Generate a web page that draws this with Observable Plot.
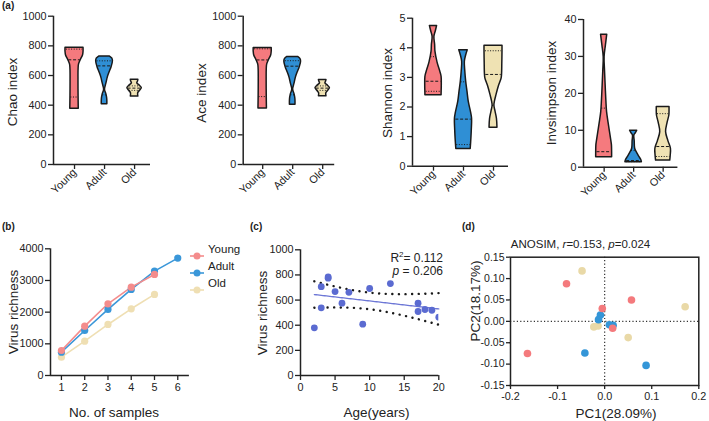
<!DOCTYPE html>
<html><head><meta charset="utf-8">
<script src="https://cdn.jsdelivr.net/npm/d3@7"></script>
<script src="https://cdn.jsdelivr.net/npm/@observablehq/plot@0.6"></script>
<style>
html,body{margin:0;padding:0;background:#fff;}
#root{position:relative;width:709px;height:421px;overflow:hidden;font-family:"Liberation Sans",Arial,sans-serif;color:#222;}
.panel{position:absolute;}
.t{position:absolute;white-space:nowrap;line-height:1;}
</style></head><body><div id="root"></div>
<script>
// ---------- categories & colours ----------
const groups = ["Young", "Adult", "Old"];
const violinColors = ["#f57a7e", "#2f8fd5", "#efe2b3"];
const lineColors = ["#f48c8c", "#3a97d9", "#efdfb3"];
const pcoaColors = ["#f47a7d", "#3496d8", "#e9d9a7"];

// ---------- (a) violin profiles: [index value, relative density] ----------
const chaoYoung = [[787,1.0],[760,1.0],[735,0.94],[705,0.7],[675,0.5],[640,0.45],[560,0.44],[460,0.45],[376,0.47]];
const chaoAdult = [[728,0.6],[715,0.85],[697,0.93],[656,0.78],[620,0.55],[589,0.37],[545,0.2],[504,0.05],[470,0.22],[440,0.3],[407,0.31]];
const chaoOld = [[571,0.42],[560,0.38],[548,0.3],[530,0.6],[515,0.8],[497,0.6],[481,0.4],[458,0.42]];
const chaoMedian = [706, 665, 515];
const chaoQ1 = [455, 470, 500];
const chaoQ3 = [778, 699, 530];

const aceYoung = [[785,1.0],[760,1.0],[735,0.94],[705,0.7],[675,0.5],[640,0.45],[560,0.44],[460,0.45],[378,0.47]];
const aceAdult = [[725,0.6],[712,0.85],[695,0.93],[655,0.78],[620,0.55],[589,0.37],[545,0.2],[505,0.05],[470,0.22],[440,0.3],[403,0.31]];
const aceOld = [[570,0.42],[560,0.38],[548,0.3],[530,0.6],[515,0.8],[497,0.6],[481,0.4],[460,0.42]];
const aceMedian = [705, 663, 515];
const aceQ1 = [458, 470, 500];
const aceQ3 = [780, 700, 530];

const shannonYoung = [[4.74,0.4],[4.55,0.25],[4.37,0.1],[4.1,0.18],[3.86,0.22],[3.5,0.45],[3.2,0.75],[3.02,0.9],[2.7,0.92],[2.45,0.9],[2.40,0.9]];
const shannonAdult = [[3.92,0.47],[3.75,0.3],[3.53,0.15],[3.2,0.2],[2.85,0.3],[2.5,0.45],[2.18,0.58],[1.8,0.85],[1.61,0.95],[1.2,0.92],[0.8,0.85],[0.58,0.8]];
const shannonOld = [[4.07,1.0],[3.9,1.0],[3.5,0.98],[3.1,0.95],[2.96,0.9],[2.7,0.6],[2.40,0.33],[2.2,0.17],[2.04,0.1],[1.85,0.22],[1.61,0.38],[1.30,0.44]];
const shannonMedian = [2.87, 1.59, 3.10];
const shannonQ1 = [2.53, 0.73, 2.05];
const shannonQ3 = [3.7, 2.85, 3.90];

const invYoung = [[35.9,0.35],[33,0.2],[29.8,0.05],[26,0.1],[22.1,0.17],[18,0.25],[14.9,0.33],[12,0.5],[9.5,0.66],[7,0.82],[5.9,0.88],[4,0.9],[2.7,0.9]];
const invAdult = [[9.9,0.4],[9.2,0.25],[8.6,0.08],[7,0.12],[5.0,0.17],[3.8,0.4],[2.7,0.67],[2,0.85],[1.36,0.93]];
const invOld = [[16.3,0.72],[15,0.72],[14,0.7],[12,0.5],[9.5,0.33],[7,0.6],[5.0,0.88],[3,0.85],[1.8,0.8]];
const invMedian = [4.2, 1.8, 5.6];
const invQ1 = [2.9, 1.5, 2.9];
const invQ3 = [16, 4.5, 14.5];

// ---------- (b) accumulation curves ----------
const samples = [1, 2, 3, 4, 5, 6];
const youngRich = [790, 1558, 2264, 2790, 3190];
const adultRich = [737, 1421, 2085, 2716, 3296, 3707];
const oldRich = [579, 1085, 1611, 2106, 2559];

// ---------- (c) richness vs age ----------
const ages = [2, 3, 3, 4, 4, 5, 6, 7, 9, 10, 13, 17, 17, 18, 19, 20];
const richness = [379, 707, 538, 784, 774, 668, 575, 662, 408, 692, 731, 575, 509, 525, 519, 464];

// ---------- (d) PCoA ----------
const pcoaGroup = ["Old","Old","Old","Old","Old","Young","Young","Young","Young","Young","Adult","Adult","Adult","Adult","Adult","Adult"];
const pc1 = [-0.048, 0.171, 0.050, -0.023, -0.014, -0.081, 0.057, -0.005, 0.017, -0.164, -0.009, -0.013, 0.010, 0.018, -0.042, 0.088];
const pc2 = [0.118, 0.034, -0.038, -0.013, -0.011, 0.088, 0.050, 0.030, -0.016, -0.075, 0.015, 0.004, -0.008, -0.009, -0.074, -0.103];

// ---------- helpers ----------
const root = document.getElementById("root");
const FONT = '"Liberation Sans", Arial, sans-serif';
const TICK = 10.8;
const baseStyle = {fontFamily: FONT, fontSize: "11px", color: "#222", background: "transparent", overflow: "visible"};
const plain = d => String(d);
function place(svg, left, top) {
  const d = document.createElement("div");
  d.className = "panel"; d.style.left = left + "px"; d.style.top = top + "px";
  d.appendChild(svg); root.appendChild(d);
}
function txt(x, y, html, o = {}) {
  const d = document.createElement("div");
  d.className = "t"; d.innerHTML = html;
  d.style.left = x + "px"; d.style.top = y + "px";
  d.style.fontSize = (o.size || 13) + "px";
  if (o.bold) d.style.fontWeight = "bold";
  const anchor = o.anchor || "center";
  const tx = anchor === "center" ? "-50%" : anchor === "end" ? "-100%" : "0";
  d.style.transform = o.rotate ? `translate(-50%,-50%) rotate(${o.rotate}deg)` : `translate(${tx},-50%)`;
  root.appendChild(d);
}
function widthAt(profile, v) {
  const p = profile.slice().sort((a, b) => a[0] - b[0]);
  if (v <= p[0][0]) return p[0][1];
  for (let k = 1; k < p.length; k++) {
    if (v <= p[k][0]) { const t = (v - p[k-1][0]) / (p[k][0] - p[k-1][0]); return p[k-1][1] + t * (p[k][1] - p[k-1][1]); }
  }
  return p[p.length - 1][1];
}

function violinPanel(o) {
  const HW = 0.3;
  const marks = [];
  o.profiles.forEach((prof, i) => {
    const rows = prof.map(([v, w]) => ({v, w, i}));
    marks.push(Plot.areaX(rows, {y: "v", x1: d => d.i - d.w * HW, x2: d => d.i + d.w * HW,
      fill: violinColors[i], stroke: "#1a1a1a", strokeWidth: 1.5, strokeLinejoin: "round", curve: "catmull-rom"}));
    const lineRow = v => ({v, i, w: widthAt(prof, v) * HW * 0.9});
    marks.push(Plot.ruleY([lineRow(o.med[i])], {y: "v", x1: d => d.i - d.w, x2: d => d.i + d.w, stroke: "#1a1a1a", strokeWidth: 1, strokeDasharray: "3,1.8"}));
    marks.push(Plot.ruleY([lineRow(o.q1[i]), lineRow(o.q3[i])], {y: "v", x1: d => d.i - d.w, x2: d => d.i + d.w, stroke: "#1a1a1a", strokeWidth: 1, strokeDasharray: "1,1.6"}));
  });
  marks.push(
    Plot.ruleX([o.xDomain[0]], {stroke: "#222", strokeWidth: 1.5}),
    Plot.ruleY([o.yDomain[0]], {stroke: "#222", strokeWidth: 1.5}),
    Plot.axisY({ticks: o.yTicks, tickFormat: plain, tickSize: 5, tickPadding: 2, fontSize: TICK, label: null, strokeWidth: 1.3}),
    Plot.axisX({ticks: [0, 1, 2], tickFormat: i => groups[i], tickRotate: -45, tickSize: 5, tickPadding: 1, fontSize: TICK, label: null, strokeWidth: 1.3})
  );
  return Plot.plot({
    width: o.width, height: 200,
    marginLeft: o.ml, marginRight: o.mr, marginTop: o.mt, marginBottom: o.mb,
    x: {domain: o.xDomain}, y: {domain: o.yDomain},
    style: baseStyle, marks
  });
}

// ---------- (a) ----------
place(violinPanel({profiles: [chaoYoung, chaoAdult, chaoOld], med: chaoMedian, q1: chaoQ1, q3: chaoQ3,
  yDomain: [0, 1000], yTicks: [0, 200, 400, 600, 800, 1000], xDomain: [-0.7, 2.53],
  width: 175, ml: 53, mr: 25, mt: 15.7, mb: 36}), 0, 0);
place(violinPanel({profiles: [aceYoung, aceAdult, aceOld], med: aceMedian, q1: aceQ1, q3: aceQ3,
  yDomain: [0, 1000], yTicks: [0, 200, 400, 600, 800, 1000], xDomain: [-0.65, 2.4],
  width: 175, ml: 67.7, mr: 15.8, mt: 15.7, mb: 36}), 175, 0);
place(violinPanel({profiles: [shannonYoung, shannonAdult, shannonOld], med: shannonMedian, q1: shannonQ1, q3: shannonQ3,
  yDomain: [0, 5], yTicks: [0, 1, 2, 3, 4, 5], xDomain: [-0.7, 2.5],
  width: 175, ml: 62, mr: 17, mt: 17.7, mb: 34.3}), 350, 0);
place(violinPanel({profiles: [invYoung, invAdult, invOld], med: invMedian, q1: invQ1, q3: invQ3,
  yDomain: [0, 40], yTicks: [0, 10, 20, 30, 40], xDomain: [-0.7, 2.5],
  width: 184, ml: 58, mr: 31.6, mt: 19, mb: 33.3}), 525, 0);

txt(2, 6, "(a)", {size: 10, bold: true, anchor: "start"});
txt(13, 91.5, "Chao index", {size: 13.5, rotate: -90});
txt(202, 92.5, "Ace index", {size: 13.5, rotate: -90});
txt(388, 93, "Shannon index", {size: 13.5, rotate: -90});
txt(552, 93, "Invsimpson index", {size: 13.5, rotate: -90});

// ---------- (b) ----------
const accRows = [];
[youngRich, adultRich, oldRich].forEach((arr, gi) => arr.forEach((v, k) => accRows.push({g: groups[gi], n: samples[k], v})));
const ordered = ["Old", "Adult", "Young"].flatMap(g => accRows.filter(d => d.g === g));
place(Plot.plot({
  width: 235, height: 221, marginLeft: 50, marginRight: 46.1, marginTop: 48.3, marginBottom: 46,
  x: {domain: [0.53, 6.5]}, y: {domain: [0, 4000]},
  color: {domain: groups, range: lineColors},
  style: baseStyle,
  marks: [
    Plot.ruleX([0.53], {stroke: "#222", strokeWidth: 1.5}),
    Plot.ruleY([0], {stroke: "#222", strokeWidth: 1.5}),
    Plot.axisY({ticks: [0, 1000, 2000, 3000, 4000], tickFormat: plain, tickSize: 5, tickPadding: 2, fontSize: TICK, label: null, strokeWidth: 1.3}),
    Plot.axisX({ticks: samples, tickFormat: plain, tickSize: 5, tickPadding: 3, fontSize: TICK, label: null, strokeWidth: 1.3}),
    Plot.line(ordered, {x: "n", y: "v", z: "g", stroke: "g", strokeWidth: 1.6}),
    Plot.dot(ordered, {x: "n", y: "v", fill: "g", r: 3.6})
  ]
}), 0, 200);
txt(2, 227, "(b)", {size: 10, bold: true, anchor: "start"});
txt(14, 312, "Virus richness", {size: 13.5, rotate: -90});
txt(114, 413, "No. of samples", {size: 13.5});
groups.forEach((g, i) => {
  const y = 250 + i * 17.2;
  const sw = document.createElement("div");
  sw.style.cssText = `position:absolute;left:190px;top:${y - 4}px;width:14px;height:8px;`;
  sw.innerHTML = `<svg width="14" height="8"><line x1="0" x2="14" y1="4" y2="4" stroke="${lineColors[i]}" stroke-width="1.6"/><circle cx="7" cy="4" r="3.5" fill="${lineColors[i]}"/></svg>`;
  root.appendChild(sw);
  txt(208, y, g, {size: 11.5, anchor: "start"});
});

// ---------- (c) ----------
const pts = ages.map((a, k) => ({a, r: richness[k]}));
const n = ages.length, mx = d3.mean(ages), my = d3.mean(richness);
const sxx = d3.sum(ages, x => (x - mx) ** 2);
const sxy = d3.sum(pts, d => (d.a - mx) * (d.r - my));
const slope = sxy / sxx, icpt = my - slope * mx;
const sres = Math.sqrt(d3.sum(pts, d => (d.r - (icpt + slope * d.a)) ** 2) / (n - 2));
const tcrit = 2.145; // t(0.975, df = 14)
const fit = d3.range(d3.min(ages), d3.max(ages) + 1e-9, 0.25).map(x => {
  const yh = icpt + slope * x, se = sres * Math.sqrt(1 / n + (x - mx) ** 2 / sxx);
  return {x, yh, lo: yh - tcrit * se, hi: yh + tcrit * se};
});
place(Plot.plot({
  width: 230, height: 221, marginLeft: 65, marginRight: 26.7, marginTop: 49.3, marginBottom: 46,
  x: {domain: [0, 20]}, y: {domain: [0, 1000]},
  style: baseStyle,
  marks: [
    Plot.ruleX([0], {stroke: "#222", strokeWidth: 1.5}),
    Plot.ruleY([0], {stroke: "#222", strokeWidth: 1.5}),
    Plot.axisY({ticks: [0, 200, 400, 600, 800, 1000], tickFormat: plain, tickSize: 5, tickPadding: 2, fontSize: TICK, label: null, strokeWidth: 1.3}),
    Plot.axisX({ticks: [0, 5, 10, 15, 20], tickFormat: plain, tickSize: 5, tickPadding: 3, fontSize: TICK, label: null, strokeWidth: 1.3}),
    Plot.line(fit, {x: "x", y: "hi", stroke: "#1a1a1a", strokeWidth: 2.4, strokeDasharray: "0.1,6.5", strokeLinecap: "round"}),
    Plot.line(fit, {x: "x", y: "lo", stroke: "#1a1a1a", strokeWidth: 2.4, strokeDasharray: "0.1,6.5", strokeLinecap: "round"}),
    Plot.line(fit, {x: "x", y: "yh", stroke: "#6d77d6", strokeWidth: 1.3}),
    Plot.dot(pts, {x: "a", y: "r", fill: "#5b6bd1", r: 3.4, clip: true})
  ]
}), 235, 200);
txt(250, 227, "(c)", {size: 10, bold: true, anchor: "start"});
txt(263, 313, "Virus richness", {size: 13.5, rotate: -90});
txt(376.5, 413, "Age(years)", {size: 13.5});
txt(443, 257, "R<sup style='font-size:8px;vertical-align:5px'>2</sup>= 0.112", {size: 12, anchor: "end"});
txt(443, 271, "<i>p</i> = 0.206", {size: 12, anchor: "end"});

// ---------- (d) ----------
const pcRows = pc1.map((x, k) => ({x, y: pc2[k], g: pcoaGroup[k]}));
const pcOrdered = ["Old", "Adult", "Young"].flatMap(g => pcRows.filter(d => d.g === g));
place(Plot.plot({
  width: 244, height: 221, marginLeft: 45, marginRight: 10.7, marginTop: 56.7, marginBottom: 36,
  x: {domain: [-0.2, 0.2]}, y: {domain: [-0.15, 0.15]},
  color: {domain: groups, range: pcoaColors},
  style: baseStyle,
  marks: [
    Plot.ruleX([0], {stroke: "#333", strokeWidth: 1.2, strokeDasharray: "1.2,2.2"}),
    Plot.ruleY([0], {stroke: "#333", strokeWidth: 1.2, strokeDasharray: "1.2,2.2"}),
    Plot.dot(pcOrdered, {x: "x", y: "y", fill: "g", r: 3.8}),
    Plot.frame({stroke: "#222", strokeWidth: 1.5}),
    Plot.axisY({ticks: [-0.15, -0.1, -0.05, 0, 0.05, 0.1, 0.15], tickFormat: d => d.toFixed(2), tickSize: 4, tickPadding: 2, fontSize: 10.5, label: null, strokeWidth: 1.3}),
    Plot.axisX({ticks: [-0.2, -0.1, 0, 0.1, 0.2], tickFormat: d => d.toFixed(1), tickSize: 4, tickPadding: 3, fontSize: TICK, label: null, strokeWidth: 1.3})
  ]
}), 465, 200);
txt(462, 227, "(d)", {size: 10, bold: true, anchor: "start"});
txt(476, 301, "PC2(18.17%)", {size: 13.5, rotate: -90});
txt(616, 414, "PC1(28.09%)", {size: 13.5});
txt(580.5, 245, "ANOSIM, <i>r</i>=0.153, <i>p</i>=0.024", {size: 11.5});
</script></body></html>
